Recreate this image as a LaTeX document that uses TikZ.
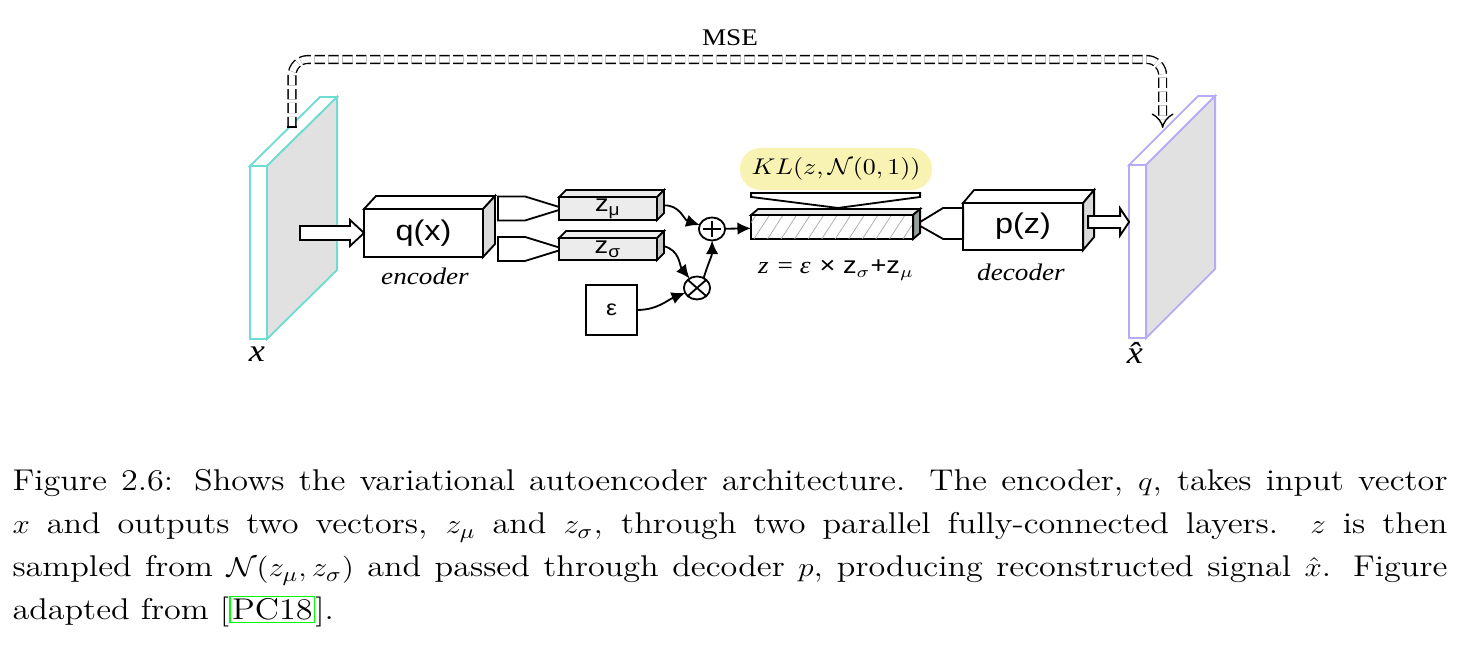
\documentclass[tikz,border=0pt]{standalone}
\usepackage{amsmath,amssymb}
\usepackage{fontspec}
\usetikzlibrary{arrows.meta,patterns.meta,positioning}
\newfontfamily\timesfont{Liberation Serif}[ItalicFont={Liberation Serif Italic}]
\newfontfamily\arialfont{Liberation Sans}
\definecolor{incyan}{RGB}{110,220,210}
\definecolor{outviolet}{RGB}{182,172,246}
\definecolor{slabgray}{RGB}{225,225,225}
\definecolor{boxgray}{RGB}{218,218,218}
\definecolor{zgray}{RGB}{236,236,236}
\definecolor{zside}{RGB}{200,200,200}
\definecolor{barside}{RGB}{150,160,155}
\definecolor{klyellow}{RGB}{248,243,178}
\newlength\ux \setlength\ux{0.386pt}
\newlength\uy \setlength\uy{0.44pt}
% top and side face of a box, node #1, depth (#2,#3)
\newcommand{\boxfaces}[6]{%
  \filldraw[#6,fill=#4] (#1.north west) -- ++(#2,#3) -- ([shift={(#2,#3)}]#1.north east) -- (#1.north east) -- cycle;
  \filldraw[#6,fill=#5] (#1.north east) -- ++(#2,#3) -- ([shift={(#2,#3)}]#1.south east) -- (#1.south east) -- cycle;}
\newcommand{\linkbox}[1]{{\setlength{\fboxsep}{0.6pt}\setlength{\fboxrule}{0.5pt}\fcolorbox{green}{white}{#1}}}

\begin{document}
\begin{tikzpicture}[x=0.386pt,y=-0.44pt,xscale=1.14,
  every node/.append style={transform shape},
  box/.style={draw,line width=0.8pt,fill=white,inner sep=0,outer sep=0},
  slab/.style={draw,line width=0.8pt,fill=white,inner sep=0,outer sep=0,minimum width=17\ux,minimum height=173\uy},
  op/.style={circle,draw,line width=0.8pt,fill=white,inner sep=0,outer sep=0,minimum size=23\uy},
  link/.style={line width=0.8pt,-{Latex[length=6pt,width=5.5pt]}},
  hollow/.style={draw,line width=0.8pt,fill=white,line join=miter},
  lbl/.style={inner sep=0,font=\timesfont\itshape\fontsize{10.5}{12}\selectfont},
  sanslbl/.style={font=\arialfont\fontsize{12.5}{14}\selectfont},
  zlbl/.style={font=\arialfont\fontsize{10.5}{11}\selectfont},
  capline/.style={anchor=base west,inner sep=0,font=\fontsize{13.2}{15}\selectfont},
  mse/.style={double,double distance=2.8pt,line width=0.6pt,dash pattern=on 4.5pt off 1.6pt,rounded corners=7pt,-{Implies}}]
\useasboundingbox (0,0) rectangle (1474,649);

% input and output slabs
\node[slab,draw=incyan] (xin) at (258.5,252.5) {};
\boxfaces{xin}{70}{-69}{white}{slabgray}{draw=incyan,line width=0.8pt}
\node[lbl,font=\timesfont\itshape\fontsize{14}{15}\selectfont] (xlab) at (257,354) {x};
\node[slab,draw=outviolet] (xout) at (1137.5,251.5) {};
\boxfaces{xout}{69}{-69}{white}{slabgray}{draw=outviolet,line width=0.8pt}
\node[lbl,font=\timesfont\itshape\fontsize{14}{15}\selectfont] (xhatlab) at (1135,353) {\^{x}};

% encoder
\node[box,sanslbl,minimum width=119\ux,minimum height=48\uy] (enc) at (423.5,233) {q(x)};
\boxfaces{enc}{12}{-13}{white}{boxgray}{line width=0.8pt}
\node[lbl] (enclab) at (425,276) {encoder};
\draw[hollow] (enc.west) ++(-64,-7) -- ++(50,0) -- ++(0,-6) -- ++(14,13) -- ++(-14,13) -- ++(0,-6) -- ++(-50,0) -- cycle;

% latent vectors
\node[box,zlbl,fill=zgray,minimum width=98\ux,minimum height=23\uy] (zmu) at (608,208.5) {z\textsubscript{μ}};
\boxfaces{zmu}{7}{-7}{zgray}{zside}{line width=0.8pt}
\node[box,zlbl,fill=zgray,minimum width=98\ux,minimum height=22\uy] (zsig) at (608,249) {z\textsubscript{σ}};
\boxfaces{zsig}{7}{-7}{zgray}{zside}{line width=0.8pt}
\draw[hollow] ([shift={(-61,-12)}]zmu.west) -- ([shift={(-34,-12)}]zmu.west) -- ([shift={(0,-1.5)}]zmu.west) -- ([shift={(0,1.5)}]zmu.west) -- ([shift={(-34,12)}]zmu.west) -- ([shift={(-61,12)}]zmu.west) -- cycle;
\draw[hollow] ([shift={(-61,-12)}]zsig.west) -- ([shift={(-34,-12)}]zsig.west) -- ([shift={(0,-1.5)}]zsig.west) -- ([shift={(0,1.5)}]zsig.west) -- ([shift={(-34,12)}]zsig.west) -- ([shift={(-61,12)}]zsig.west) -- cycle;

\node[box,minimum width=51\ux,minimum height=50\uy,font=\arialfont\fontsize{9.5}{10}\selectfont] (eps) at (611.5,310) {ε};

% reparametrisation
\node[op,path picture={\draw[line width=0.8pt] ([xshift=-3.4pt]path picture bounding box.center) -- ([xshift=3.4pt]path picture bounding box.center) ([yshift=-3.4pt]path picture bounding box.center) -- ([yshift=3.4pt]path picture bounding box.center);}] (plus) at (712,229) {};
\node[op,path picture={\draw[line width=0.8pt] (path picture bounding box.north west) -- (path picture bounding box.south east) (path picture bounding box.south west) -- (path picture bounding box.north east);}] (times) at (697,288) {};
\draw[link] ([shift={(6,-3)}]zmu.east) to[out=5,in=160] (plus);
\draw[link] ([shift={(6,-3)}]zsig.east) to[out=-15,in=125] (times);
\draw[link] (eps.east) to[out=0,in=205] (times);
\draw[link] (times.60) to[out=75,in=-90] (plus.south);

% sampled z
\node[box,minimum width=162\ux,minimum height=24\uy,postaction={pattern={Lines[angle=57,distance=5pt,line width=0.3pt]},pattern color=gray!70}] (zbar) at (832,227) {};
\boxfaces{zbar}{7}{-6}{gray!15}{barside}{line width=0.8pt}
\draw[link] (plus) -- (zbar);
\node[fill=klyellow,rounded corners=9pt,minimum width=192\ux,minimum height=42\uy,inner sep=0,font=\fontsize{10}{11}\selectfont] (kl) at (836,169) {$KL(z,\mathcal{N}(0,1))$};
\draw[hollow] ([shift={(0,-22)}]zbar.north west) -- ([shift={(169,-22)}]zbar.north west) -- ([shift={(169,-18)}]zbar.north west) -- ([shift={(87,-7)}]zbar.north west) -- ([shift={(0,-18)}]zbar.north west) -- cycle;
\node[inner sep=0,font=\fontsize{10.5}{12}\selectfont] (zeq) at (836,270) {{\timesfont\itshape z} {\timesfont = \itshape ε} {\arialfont × z}$_{\sigma}${\arialfont +z}$_{\mu}$};

% decoder
\node[box,sanslbl,minimum width=120\ux,minimum height=47\uy] (dec) at (1023,226.5) {p(z)};
\boxfaces{dec}{11}{-13}{white}{boxgray}{line width=0.8pt}
\node[lbl] (declab) at (1021,272) {decoder};
\draw[hollow] ([shift={(-43,-4.5)}]dec.west) -- ([shift={(-20,-18.5)}]dec.west) -- ([shift={(0,-18.5)}]dec.west) -- ([shift={(0,12.5)}]dec.west) -- ([shift={(-20,12.5)}]dec.west) -- ([shift={(-43,-0.5)}]dec.west) -- cycle;
\draw[hollow] ([shift={(5,-10.5)}]dec.east) -- ++(32,0) -- ++(0,-7.5) -- ++(9,13.5) -- ++(-9,13.5) -- ++(0,-7.5) -- ++(-32,0) -- cycle;

% reconstruction loss
\coordinate (msestart) at (292,127);
\coordinate (mseend) at (1162.5,128);
\draw[mse] (msestart) -- (msestart |- 0,59.5) -- (mseend |- 0,59.5) -- (mseend);
\draw[line width=0.6pt] ([xshift=-2pt]msestart) -- ([xshift=2pt]msestart);
\node[font=\timesfont\fontsize{10.5}{12}\selectfont] (mselab) at (730,38) {MSE};

% caption
\node[capline] (cap1) at (12,491) {\makebox[1435\ux][s]{Figure 2.6: Shows the variational autoencoder architecture. The encoder, $q$, takes input vector}};
\node[capline] (cap2) at (12,534) {\makebox[1435\ux][s]{$x$ and outputs two vectors, $z_\mu$ and $z_\sigma$, through two parallel fully-connected layers. $z$ is then}};
\node[capline] (cap3) at (12,577) {\makebox[1435\ux][s]{sampled from $\mathcal{N}(z_\mu,z_\sigma)$ and passed through decoder $p$, producing reconstructed signal $\hat{x}$. Figure}};
\node[capline] (cap4) at (12,620) {adapted from [\linkbox{PC18}].};
\end{tikzpicture}
\end{document}
